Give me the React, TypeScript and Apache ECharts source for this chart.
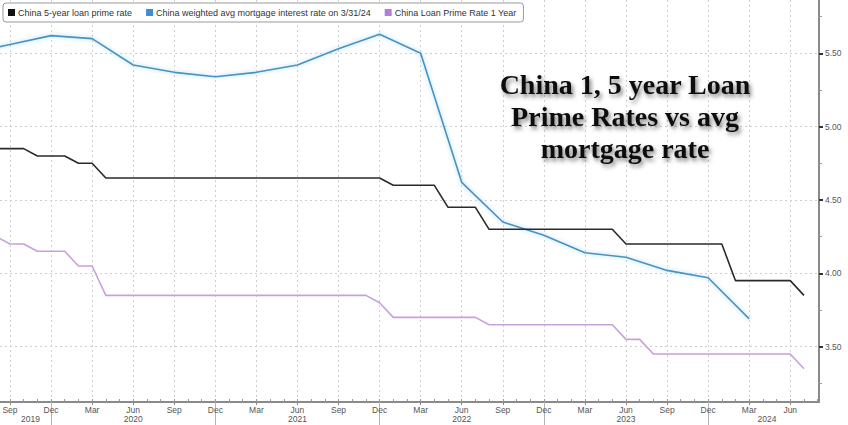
import React, { useEffect, useRef } from "react";
import * as echarts from "echarts";

// Monthly observation keys (LPR fixing months)
const monthKeys = [
  "2019-08", "2019-09", "2019-10", "2019-11", "2019-12",
  "2020-01", "2020-02", "2020-03", "2020-04", "2020-05", "2020-06", "2020-07", "2020-08", "2020-09", "2020-10", "2020-11", "2020-12",
  "2021-01", "2021-02", "2021-03", "2021-04", "2021-05", "2021-06", "2021-07", "2021-08", "2021-09", "2021-10", "2021-11", "2021-12",
  "2022-01", "2022-02", "2022-03", "2022-04", "2022-05", "2022-06", "2022-07", "2022-08", "2022-09", "2022-10", "2022-11", "2022-12",
  "2023-01", "2023-02", "2023-03", "2023-04", "2023-05", "2023-06", "2023-07", "2023-08", "2023-09", "2023-10", "2023-11", "2023-12",
  "2024-01", "2024-02", "2024-03", "2024-04", "2024-05", "2024-06", "2024-07",
];

const lpr5y = [
  4.85, 4.85, 4.85, 4.80, 4.80,
  4.80, 4.75, 4.75, 4.65, 4.65, 4.65, 4.65, 4.65, 4.65, 4.65, 4.65, 4.65,
  4.65, 4.65, 4.65, 4.65, 4.65, 4.65, 4.65, 4.65, 4.65, 4.65, 4.65, 4.65,
  4.60, 4.60, 4.60, 4.60, 4.45, 4.45, 4.45, 4.30, 4.30, 4.30, 4.30, 4.30,
  4.30, 4.30, 4.30, 4.30, 4.30, 4.20, 4.20, 4.20, 4.20, 4.20, 4.20, 4.20,
  4.20, 3.95, 3.95, 3.95, 3.95, 3.95, 3.85,
];

const lpr1y = [
  4.25, 4.20, 4.20, 4.15, 4.15,
  4.15, 4.05, 4.05, 3.85, 3.85, 3.85, 3.85, 3.85, 3.85, 3.85, 3.85, 3.85,
  3.85, 3.85, 3.85, 3.85, 3.85, 3.85, 3.85, 3.85, 3.85, 3.85, 3.85, 3.80,
  3.70, 3.70, 3.70, 3.70, 3.70, 3.70, 3.70, 3.65, 3.65, 3.65, 3.65, 3.65,
  3.65, 3.65, 3.65, 3.65, 3.65, 3.55, 3.55, 3.45, 3.45, 3.45, 3.45, 3.45,
  3.45, 3.45, 3.45, 3.45, 3.45, 3.45, 3.35,
];

// Quarterly weighted average mortgage rate
const mortgageQuarters = [
  "2019-06", "2019-09", "2019-12", "2020-03", "2020-06", "2020-09", "2020-12",
  "2021-03", "2021-06", "2021-09", "2021-12", "2022-03", "2022-06", "2022-09",
  "2022-12", "2023-03", "2023-06", "2023-09", "2023-12", "2024-03",
];
const mortgageRate = [
  5.50, 5.56, 5.62, 5.60, 5.42, 5.37, 5.34,
  5.37, 5.42, 5.53, 5.63, 5.50, 4.62, 4.35,
  4.26, 4.14, 4.11, 4.02, 3.97, 3.69,
];

const seriesNames = [
  "China 5-year loan prime rate",
  "China weighted avg mortgage interest rate on 3/31/24",
  "China Loan Prime Rate 1 Year",
];

const monthNames = ["Jan", "Feb", "Mar", "Apr", "May", "Jun", "Jul", "Aug", "Sep", "Oct", "Nov", "Dec"];
const yearLabels = ["2019", "2020", "2021", "2022", "2023", "2024"];
const yTickValues = [3.5, 4.0, 4.5, 5.0, 5.5];
const yMinorValues = [3.25, 3.75, 4.25, 4.75, 5.25, 5.75];

const titleText = "China 1, 5 year Loan\nPrime Rates vs avg\nmortgage rate";

// month index relative to Sep 2019
function monthIndex(key: string): number {
  const [y, m] = key.split("-").map(Number);
  return (y - 2019) * 12 + (m - 9);
}

const X_MIN = -0.73;
const X_MAX = 59.1;
const Y_MIN = 3.123;
const Y_MAX = 5.863;

const FONT = "Liberation Sans";

export default function App() {
  const ref = useRef<HTMLDivElement>(null);

  useEffect(() => {
    if (!ref.current) return;
    const chart = echarts.init(ref.current, null, { renderer: "svg" });

    const quarterTicks: number[] = [];
    for (let m = 0; m <= 57; m += 3) quarterTicks.push(m);
    const monthTicks: number[] = [];
    for (let m = 0; m <= 59; m++) monthTicks.push(m);
    const yearPos = [1.5, 9, 21, 33, 45, 55.3];
    const yearSep = [3, 15, 27, 39, 51];

    const gridLine = { color: "#cfcfcf", width: 1, type: [2, 3] as any };

    const baseX = { type: "value", min: X_MIN, max: X_MAX, gridIndex: 0, position: "bottom" };
    const baseY = { type: "value", min: Y_MIN, max: Y_MAX, gridIndex: 0, position: "right" };

    const toPairs = (keys: string[], vals: number[]) => keys.map((k, i) => [monthIndex(k), vals[i]]);

    chart.setOption({
      animation: false,
      backgroundColor: "#ffffff",
      grid: { left: 0, right: 29, top: 0, bottom: 23, containLabel: false, outerBoundsMode: "none" },
      legend: {
        left: 3,
        top: 3,
        backgroundColor: "#ffffff",
        borderColor: "#9a9a9a",
        borderWidth: 1,
        borderRadius: 3,
        padding: [5, 7, 5, 5],
        itemGap: 14,
        itemWidth: 7,
        itemHeight: 7,
        icon: "rect",
        textStyle: { fontSize: 9, color: "#333", fontFamily: FONT, padding: [0, 0, 0, -2] },
        data: [
          { name: seriesNames[0], itemStyle: { color: "#111111" } },
          { name: seriesNames[1], itemStyle: { color: "#3b8fd6" } },
          { name: seriesNames[2], itemStyle: { color: "#b47ee0" } },
        ],
      },
      xAxis: [
        {
          ...baseX,
          axisLine: { show: true, onZero: false, lineStyle: { color: "#8a8a8a", width: 2 } },
          axisTick: { show: true, customValues: quarterTicks, length: 3, lineStyle: { color: "#888" } },
          axisLabel: {
            customValues: quarterTicks,
            formatter: (v: number) => monthNames[(((Math.round(v) + 8) % 12) + 12) % 12],
            fontSize: 8.5,
            color: "#555",
            fontFamily: FONT,
            margin: 3,
          },
          splitLine: { show: true, lineStyle: gridLine },
        },
        {
          ...baseX,
          axisLine: { show: false, onZero: false },
          axisTick: { show: true, customValues: monthTicks, inside: true, length: 3, lineStyle: { color: "#999" } },
          axisLabel: { show: false },
          splitLine: { show: false },
        },
        {
          ...baseX,
          axisLine: { show: false, onZero: false },
          axisTick: { show: false },
          axisLabel: {
            customValues: yearPos,
            formatter: (v: number) => {
              let best = 0;
              yearPos.forEach((p, i) => { if (Math.abs(p - v) < Math.abs(yearPos[best] - v)) best = i; });
              return yearLabels[best];
            },
            fontSize: 8.5,
            color: "#555",
            fontFamily: FONT,
            margin: 12,
          },
          splitLine: { show: false },
        },
        {
          ...baseX,
          axisLine: { show: false, onZero: false },
          axisTick: { show: true, customValues: yearSep, length: 23, lineStyle: { color: "#b5b5b5" } },
          axisLabel: { show: false },
          splitLine: { show: false },
        },
      ],
      yAxis: [
        {
          ...baseY,
          axisLine: { show: true, onZero: false, lineStyle: { color: "#8a8a8a", width: 2 } },
          axisTick: { show: true, customValues: yTickValues, length: 4, lineStyle: { color: "#333", width: 2 } },
          axisLabel: {
            customValues: yTickValues,
            formatter: (v: number) => v.toFixed(2),
            fontSize: 8.5,
            color: "#555",
            fontFamily: FONT,
            margin: 6,
          },
          splitLine: { show: true, lineStyle: gridLine },
        },
        {
          ...baseY,
          axisLine: { show: false, onZero: false },
          axisTick: { show: true, customValues: yMinorValues, length: 3, lineStyle: { color: "#999" } },
          axisLabel: { show: false },
          splitLine: { show: false },
        },
      ],
      graphic: [
        {
          type: "text",
          x: 625,
          y: 116,
          z: 100,
          style: {
            text: titleText,
            fontSize: 28,
            fontWeight: "bold",
            fontFamily: "Liberation Serif",
            fill: "#111",
            align: "center",
            verticalAlign: "middle",
            lineHeight: 32,
            textShadowColor: "rgba(0,0,0,0.5)",
            textShadowBlur: 4,
            textShadowOffsetX: 2,
            textShadowOffsetY: 3,
          },
        },
      ],
      series: [
        {
          name: seriesNames[2],
          type: "line",
          xAxisIndex: 0,
          yAxisIndex: 0,
          symbol: "none",
          data: toPairs(monthKeys, lpr1y),
          itemStyle: { color: "#c9a0dc" },
          lineStyle: { color: "#c9a0dc", width: 1.6 },
        },
        {
          name: seriesNames[1],
          type: "line",
          xAxisIndex: 0,
          yAxisIndex: 0,
          symbol: "none",
          data: toPairs(mortgageQuarters, mortgageRate),
          itemStyle: { color: "#4a92c0" },
          lineStyle: { color: "#4a92c0", width: 1.6, shadowColor: "rgba(120,200,240,0.7)", shadowBlur: 4 },
        },
        {
          name: seriesNames[0],
          type: "line",
          xAxisIndex: 0,
          yAxisIndex: 0,
          symbol: "none",
          data: toPairs(monthKeys, lpr5y),
          itemStyle: { color: "#2a2a2a" },
          lineStyle: { color: "#2a2a2a", width: 1.6 },
        },
      ],
    });

    return () => chart.dispose();
  }, []);

  return (
    <div
      ref={ref}
      style={{ position: "fixed", left: 0, top: 0, width: 848, height: 425, background: "#fff" }}
    />
  );
}
